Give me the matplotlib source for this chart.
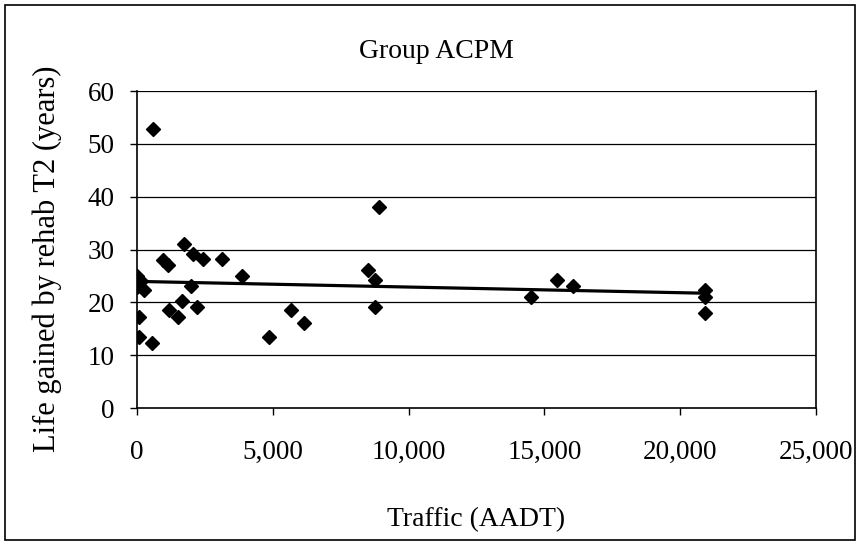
import numpy as np
import matplotlib.pyplot as plt
from matplotlib.ticker import FuncFormatter, MultipleLocator
from matplotlib.patches import Rectangle

plt.rcParams['font.family'] = ['Liberation Serif', 'DejaVu Serif']

# Traffic (AADT) and life gained by rehab T2 (years)
traffic = [0, 50, 0, 150, 270, 100, 70, 550, 590,
           960, 1150, 1730, 2060, 2440, 3140, 1990, 1180, 1510, 1660, 2210,
           3870, 4870, 5680, 6160, 8520, 8750, 8750, 8930,
           14500, 15460, 16050, 20900, 20900, 20900]
life = [25, 24.5, 23, 24, 22.3, 17.2, 13.4, 12.3, 52.8,
        28.1, 27, 31.1, 29.2, 28.3, 28.3, 23.2, 18.5, 17.2, 20.2, 19.2,
        25.1, 13.4, 18.5, 16.2, 26.2, 24.3, 19.2, 38.1,
        21, 24.3, 23.2, 22.3, 21, 18.1]

x = np.array(traffic, dtype=float)
y = np.array(life, dtype=float)

fig = plt.figure(figsize=(8.6, 5.45), dpi=100)
ax = fig.add_axes([0.159, 0.251, 0.79, 0.582])

# horizontal gridlines
for g in range(10, 61, 10):
    ax.axhline(g, color='black', lw=0.9, zorder=1)

ax.plot(x, y, linestyle='none', marker='D', markersize=7,
        color='black', zorder=3)

# linear trend line over the data range
k, b = np.polyfit(x, y, 1)
xt = np.array([x.min(), x.max()])
ax.plot(xt, k * xt + b, color='black', lw=2.3, zorder=2)

ax.set_xlim(0, 25000)
ax.set_ylim(0, 60)
ax.xaxis.set_major_locator(MultipleLocator(5000))
ax.yaxis.set_major_locator(MultipleLocator(10))
ax.xaxis.set_major_formatter(FuncFormatter(lambda v, p: f'{int(v):,}'))

ax.spines['top'].set_visible(False)
for s in ['left', 'bottom', 'right']:
    ax.spines[s].set_linewidth(1.2)

ax.tick_params(axis='both', direction='out', length=5, width=1, labelsize=19.5)
ax.tick_params(axis='x', pad=18)
ax.tick_params(axis='y', pad=11)

# chart title is centred on the whole chart, not the plot area
fig.text(0.508, 0.894, 'Group ACPM', fontsize=20, ha='center', va='baseline')
ax.set_xlabel('Traffic (AADT)', fontsize=20, labelpad=30)
ax.set_ylabel('Life gained by rehab T2 (years)', fontsize=22)
ax.yaxis.set_label_coords(-0.11, 0.47)

# outer chart border
fig.patches.append(Rectangle((0.006, 0.01), 0.988, 0.98, transform=fig.transFigure,
                             fill=False, edgecolor='black', lw=1.2))

fig.savefig('out.png', dpi=100)
